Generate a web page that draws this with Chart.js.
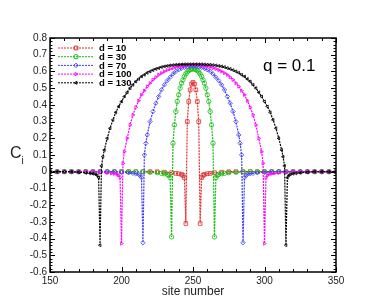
<!DOCTYPE html>
<html><head><meta charset="utf-8">
<script src="https://cdn.jsdelivr.net/npm/chart.js@4.4.0/dist/chart.umd.min.js"></script>
<style>html,body{margin:0;padding:0;background:#fff;}</style>
</head><body>
<canvas id="c" width="382" height="306"></canvas>
<script>
// ---------- data ----------
const seriesLabels = ["d = 10", "d = 30", "d = 70", "d = 100", "d = 130"];
const xTickValues = [150, 200, 250, 300, 350];
const yTickMin = -0.6, yTickMax = 0.8;

const siteD10 = [150,155,160,165,170,175,180,185,190,195,200,205,210,215,220,225,230,235,238,240,242,243,244,
  245,246,247,248,249,250,251,252,253,254,255,
  256,257,258,260,262,265,270,275,280,285,290,295,300,305,310,315,320,325,330,335,340,345,350];
const valD10 = [0,0,0,0,0,0,0,0,0,0,0,0,0,0,0,0,-0.003,-0.006,-0.01,-0.012,-0.016,-0.022,-0.035,
  -0.31,0.30,0.42,0.49,0.525,0.535,0.525,0.49,0.42,0.30,-0.31,
  -0.035,-0.022,-0.016,-0.012,-0.01,-0.006,-0.003,0,0,0,0,0,0,0,0,0,0,0,0,0,0,0,0];

const siteD30 = [150,155,160,165,170,175,180,185,190,195,200,205,210,215,220,225,228,230,232,233,234,
  235,236,237,238,239,240,241,242,243,244,245,246,247,248,249,250,251,252,253,254,255,256,257,258,259,260,261,262,263,264,265,
  266,267,268,270,272,275,280,285,290,295,300,305,310,315,320,325,330,335,340,345,350];
const valD30 = [0,0,0,0,0,0,0,0,0,0,0,0,0,0,-0.003,-0.006,-0.01,-0.012,-0.016,-0.022,-0.035,
  -0.39,0.17,0.28,0.36,0.42,0.46,0.50,0.53,0.55,0.57,0.585,0.597,0.605,0.611,0.614,0.615,0.614,0.611,0.605,0.597,0.585,0.57,0.55,0.53,0.50,0.46,0.42,0.36,0.28,0.17,-0.39,
  -0.035,-0.022,-0.016,-0.012,-0.01,-0.006,-0.003,0,0,0,0,0,0,0,0,0,0,0,0,0,0];

const siteD70 = [150,155,160,165,170,175,180,185,190,195,200,205,208,210,212,213,214,
  215,216,217,218,220,222,224,226,228,230,232,234,236,238,240,242,244,246,248,250,252,254,256,258,260,262,264,266,268,270,272,274,276,278,280,282,283,284,285,
  286,287,288,290,292,295,300,305,310,315,320,325,330,335,340,345,350];
const valD70 = [0,0,0,0,0,0,0,0,0,0,-0.003,-0.006,-0.01,-0.012,-0.016,-0.022,-0.035,
  -0.425,0.10,0.17,0.22,0.30,0.36,0.41,0.45,0.49,0.52,0.545,0.565,0.585,0.60,0.61,0.618,0.624,0.628,0.63,0.631,0.63,0.628,0.624,0.618,0.61,0.60,0.585,0.565,0.545,0.52,0.49,0.45,0.41,0.36,0.30,0.22,0.17,0.10,-0.425,
  -0.035,-0.022,-0.016,-0.012,-0.01,-0.006,-0.003,0,0,0,0,0,0,0,0,0,0];

const siteD100 = [150,155,160,165,170,175,180,185,190,193,195,197,198,199,
  200,201,202,204,206,208,210,212,214,216,218,220,222,224,226,228,230,232,234,236,238,240,242,244,246,248,250,
  252,254,256,258,260,262,264,266,268,270,272,274,276,278,280,282,284,286,288,290,292,294,296,298,299,300,
  301,302,303,305,307,310,315,320,325,330,335,340,345,350];
const valD100 = [0,0,0,0,0,0,0,-0.003,-0.006,-0.01,-0.012,-0.016,-0.022,-0.035,
  -0.43,0.05,0.12,0.20,0.28,0.34,0.385,0.425,0.46,0.485,0.51,0.53,0.55,0.565,0.58,0.59,0.60,0.608,0.615,0.62,0.626,0.63,0.633,0.636,0.638,0.639,0.64,
  0.639,0.638,0.636,0.633,0.63,0.626,0.62,0.615,0.608,0.60,0.59,0.58,0.565,0.55,0.53,0.51,0.485,0.46,0.425,0.385,0.34,0.28,0.20,0.12,0.05,-0.43,
  -0.035,-0.022,-0.016,-0.012,-0.01,-0.006,-0.003,0,0,0,0,0,0,0];

const siteD130 = [150,155,160,165,170,175,178,180,182,183,184,
  185,186,187,188,190,192,194,196,198,200,202,204,206,208,210,212,214,216,218,220,222,224,226,228,230,232,234,236,238,240,242,244,246,248,250,
  252,254,256,258,260,262,264,266,268,270,272,274,276,278,280,282,284,286,288,290,292,294,296,298,300,302,304,306,308,310,312,313,314,315,
  316,317,318,320,322,325,330,335,340,345,350];
const valD130 = [0,0,0,0,-0.003,-0.006,-0.01,-0.012,-0.016,-0.022,-0.035,
  -0.44,0.035,0.09,0.13,0.20,0.26,0.31,0.355,0.39,0.42,0.45,0.475,0.50,0.52,0.54,0.555,0.57,0.58,0.592,0.60,0.608,0.615,0.62,0.626,0.63,0.633,0.636,0.638,0.64,0.641,0.642,0.643,0.643,0.643,0.643,
  0.643,0.643,0.643,0.642,0.641,0.64,0.638,0.636,0.633,0.63,0.626,0.62,0.615,0.608,0.60,0.592,0.58,0.57,0.555,0.54,0.52,0.50,0.475,0.45,0.42,0.39,0.355,0.31,0.26,0.20,0.13,0.09,0.035,-0.44,
  -0.035,-0.022,-0.016,-0.012,-0.01,-0.006,-0.003,0,0,0,0];

// ---------- styles ----------
const colors = ["rgb(225,45,45)", "rgb(20,190,20)", "rgb(60,60,255)", "rgb(255,0,255)", "rgb(0,0,0)"];
const styles = [
  {pointStyle:'rect', radius:2.6, rotation:0},
  {pointStyle:'circle', radius:2.2, rotation:0},
  {pointStyle:'rectRot', radius:2.2, rotation:0},
  {pointStyle:'triangle', radius:1.9, rotation:90},
  {pointStyle:'triangle', radius:1.7, rotation:-90}
];
const sites = [siteD10, siteD30, siteD70, siteD100, siteD130];
const vals = [valD10, valD30, valD70, valD100, valD130];

const datasets = seriesLabels.map((lab, k) => ({
  label: lab,
  data: sites[k].map((s, i) => ({x: s, y: vals[k][i]})),
  showLine: true,
  borderColor: colors[k],
  backgroundColor: 'rgba(255,255,255,0)',
  borderWidth: 1.2,
  borderDash: [2, 1],
  pointStyle: styles[k].pointStyle,
  pointRadius: styles[k].radius,
  pointRotation: styles[k].rotation,
  pointBorderWidth: 0.8,
  pointBorderColor: colors[k],
  pointBackgroundColor: 'rgba(255,255,255,0)',
  order: 4 - k
}));

const FONT = "'Liberation Sans', Arial, Helvetica, sans-serif";

const decor = {
  id: 'decor',
  afterDraw(chart) {
    const {ctx, chartArea: a, scales: {x, y}} = chart;
    ctx.save();
    ctx.strokeStyle = '#000';
    ctx.lineWidth = 1;
    ctx.setLineDash([]);
    const seg = (x1, y1, x2, y2) => { ctx.beginPath(); ctx.moveTo(x1, y1); ctx.lineTo(x2, y2); ctx.stroke(); };
    for (let v = 150; v <= 350; v += 10) {
      const px = Math.round(x.getPixelForValue(v)) + 0.5;
      const len = (v % 50 === 0) ? 5 : 3;
      seg(px, a.bottom, px, a.bottom - len);
      seg(px, a.top, px, a.top + len);
    }
    for (let i = 0; i <= 70; i++) {
      const v = -0.6 + i * 0.02;
      const py = Math.round(y.getPixelForValue(v)) + 0.5;
      const len = (i % 5 === 0) ? 5 : 2.5;
      seg(a.left, py, a.left + len, py);
      seg(a.right, py, a.right - len, py);
    }
    ctx.lineWidth = 1.5;
    ctx.strokeRect(a.left, a.top, a.right - a.left, a.bottom - a.top);

    // legend
    const lx1 = 58, lx2 = 93, mx = 76, ty = 48, dy = 8.7;
    seriesLabels.forEach((lab, k) => {
      const yy = ty + k * dy;
      ctx.strokeStyle = colors[k];
      ctx.lineWidth = 1;
      ctx.setLineDash([2, 1]);
      seg(lx1, yy, lx2, yy);
      ctx.setLineDash([]);
      ctx.fillStyle = 'rgba(255,255,255,0)';
      Chart.helpers.drawPoint(ctx, {pointStyle: styles[k].pointStyle, radius: styles[k].radius, rotation: styles[k].rotation, borderWidth: 0.8}, mx, yy);
      ctx.fillStyle = '#000';
      ctx.font = "bold 9.5px " + FONT;
      ctx.textBaseline = 'middle';
      ctx.textAlign = 'left';
      ctx.fillText(lab, 99, yy + 0.5);
    });

    ctx.fillStyle = '#000';
    ctx.font = "17px " + FONT;
    ctx.textBaseline = 'alphabetic';
    ctx.textAlign = 'left';
    ctx.fillText("q = 0.1", 263, 71);

    ctx.fillStyle = '#222';
    ctx.font = "12px " + FONT;
    ctx.textAlign = 'center';
    ctx.fillText("site number", (a.left + a.right) / 2, 295);
    ctx.font = "16px " + FONT;
    ctx.textAlign = 'left';
    ctx.fillText("C", 10, 158);
    ctx.font = "10px " + FONT;
    ctx.fillText("i", 21.5, 164);
    ctx.restore();
  }
};

new Chart(document.getElementById('c'), {
  type: 'scatter',
  data: { datasets },
  options: {
    responsive: false,
    animation: false,
    devicePixelRatio: 1,
    layout: { padding: { left: 0, right: 46, top: 38, bottom: 0 } },
    plugins: { legend: { display: false }, tooltip: { enabled: false } },
    scales: {
      x: {
        type: 'linear', min: 150, max: 350,
        afterFit: s => { s.height = 34; },
        afterBuildTicks: s => { s.ticks = xTickValues.map(v => ({value: v})); },
        grid: { display: false, drawTicks: false, tickLength: 0 },
        border: { display: false },
        ticks: { padding: 3, maxRotation: 0, autoSkip: false, color: '#222', font: { family: FONT, size: 10 } }
      },
      y: {
        type: 'linear', min: yTickMin, max: yTickMax,
        afterFit: s => { s.width = 50; },
        grid: { display: false, drawTicks: false, tickLength: 0 },
        border: { display: false },
        ticks: { stepSize: 0.1, padding: 3, autoSkip: false, color: '#222', font: { family: FONT, size: 10 },
          callback: v => String(Math.round(v * 10) / 10) }
      }
    }
  },
  plugins: [decor]
});
</script>
</body></html>
